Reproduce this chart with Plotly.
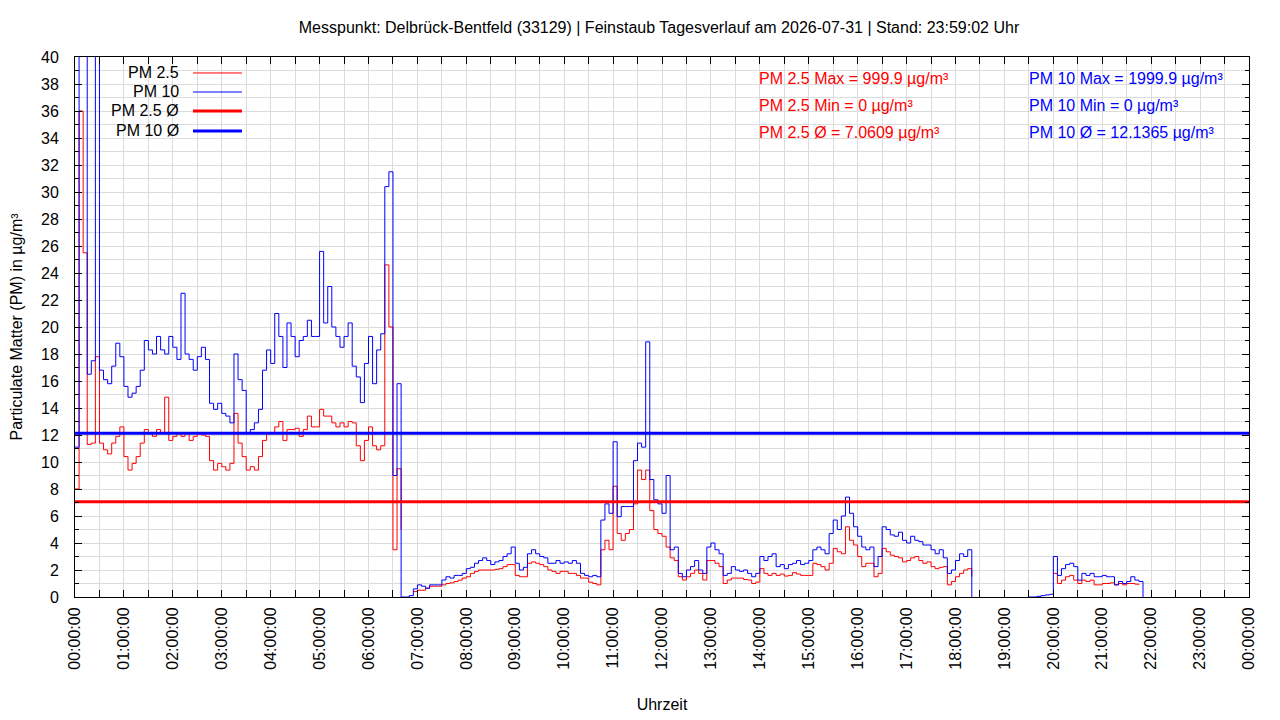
import pandas as pd
import plotly.graph_objects as go

# ---------------- data (5-minute readings) ----------------
N = None
TIME_START = "2026-07-31 00:00:00"
TIME_END = "2026-08-01 00:00:00"

pm10 = [
    11.1, 44.0, 42.0, 16.5, 17.5, 45.0, 16.8, 16.1, 15.8, 17.1, 18.8, 17.8,   # 00
    15.6, 14.8, 15.1, 15.6, 16.8, 19.0, 18.3, 18.0, 19.3, 18.3, 18.0, 19.3,   # 01
    18.5, 17.6, 22.5, 18.0, 17.6, 16.8, 17.8, 18.5, 17.6, 14.35, 13.9, 14.35, # 02
    13.6, 13.4, 12.9, 18.0, 16.1, 15.3, 12.1, 12.4, 12.9, 13.9, 16.8, 18.3,   # 03
    17.3, 21.0, 19.3, 17.0, 20.3, 19.3, 17.8, 19.0, 19.3, 20.5, 19.3, 19.3,   # 04
    25.6, 20.3, 23.0, 20.0, 19.3, 18.5, 19.3, 20.3, 17.1, 16.3, 14.4, 17.3,   # 05
    19.3, 15.8, 18.3, 19.5, 30.4, 31.5, 9.0, 15.8, 0.0, 0.0, 0.1, 0.6,        # 06
    0.9, 0.8, 0.65, 0.9, 0.9, 0.9, 1.26, 1.5, 1.4, 1.6, 1.6, 1.75,            # 07
    2.1, 2.2, 2.5, 2.7, 2.9, 2.7, 2.4, 2.6, 2.7, 3.0, 3.2, 3.7,               # 08
    2.5, 2.0, 2.2, 3.2, 3.5, 3.2, 3.0, 2.9, 2.5, 2.5, 2.7, 2.5,               # 09
    2.6, 2.5, 2.7, 2.5, 1.75, 1.6, 1.5, 1.6, 1.5, 5.7, 6.9, 6.2,              # 10
    11.5, 5.95, 6.7, 6.7, 6.7, 10.1, 11.4, 11.1, 18.9, 8.7, 7.2, 6.9,         # 11
    6.2, 9.0, 3.5, 3.7, 1.75, 1.5, 2.0, 2.25, 2.7, 2.0, 1.75, 3.7,            # 12
    4.0, 3.5, 3.2, 1.6, 1.75, 2.25, 2.0, 1.9, 2.0, 1.75, 1.5, 1.75,           # 13
    3.0, 2.7, 3.0, 3.2, 2.25, 2.4, 2.1, 2.4, 2.5, 2.7, 2.4, 2.5,              # 14
    2.7, 3.5, 3.7, 3.5, 3.2, 4.7, 5.7, 5.0, 6.0, 7.4, 6.2, 5.2,               # 15
    4.5, 3.7, 3.5, 3.7, 2.25, 3.0, 5.2, 5.0, 4.6, 4.5, 4.8, 4.2,              # 16
    4.0, 4.5, 4.2, 4.1, 3.85, 3.85, 3.5, 3.2, 3.5, 2.9, 1.75, 2.0,            # 17
    2.7, 3.2, 3.0, 3.5, 0.0, N, N, N, N, N, N, N,                             # 18
    N, N, N, N, N, N, 0.0, 0.0, 0.05, 0.1, 0.15, 0.2,                         # 19
    3.0, 1.6, 2.1, 2.4, 2.5, 2.25, 1.25, 1.75, 1.6, 1.75, 1.5, 1.5,           # 20
    1.6, 1.5, 1.5, 0.9, 1.15, 1.0, 1.15, 1.5, 1.25, 1.15, 0.0, N,             # 21
    N, N, N, N, N, N, N, N, N, N, N, N,                                       # 22
    N, N, N, N, N, N, N, N, N, N, N, N,                                       # 23
]

pm25 = [
    8.0, 36.0, 25.5, 11.3, 11.4, 17.8, 11.4, 10.9, 10.6, 11.4, 11.9, 12.6,    # 00
    10.4, 9.4, 9.9, 10.4, 11.4, 12.4, 12.1, 11.9, 12.4, 12.1, 14.8, 11.6,     # 01
    11.9, 12.1, 11.9, 12.1, 11.6, 11.9, 12.1, 12.0, 11.9, 10.1, 9.4, 9.9,     # 02
    9.65, 9.4, 9.9, 13.6, 11.4, 10.4, 9.4, 9.65, 9.4, 10.4, 11.6, 12.1,       # 03
    12.1, 12.6, 13.0, 11.6, 12.4, 12.4, 12.5, 11.9, 12.4, 13.4, 12.6, 12.6,   # 04
    13.9, 13.4, 13.4, 12.9, 12.6, 12.9, 12.6, 13.0, 12.9, 11.2, 10.1, 11.6,   # 05
    12.6, 11.2, 10.9, 11.2, 24.6, 20.0, 3.5, 9.5, 5.0, N, N, 0.4,             # 06
    0.5, 0.5, 0.65, 0.8, 0.8, 0.8, 0.9, 1.0, 1.05, 1.15, 1.25, 1.4,           # 07
    1.5, 1.75, 1.9, 2.0, 2.0, 2.0, 2.0, 2.05, 2.1, 2.25, 2.4, 2.4,            # 08
    1.6, 1.5, 1.5, 2.5, 2.6, 2.5, 2.4, 2.25, 2.0, 1.9, 1.75, 1.9,             # 09
    1.9, 1.75, 1.75, 1.6, 1.4, 1.4, 1.1, 1.0, 0.9, 3.5, 4.2, 3.5,             # 10
    8.2, 4.7, 4.2, 4.7, 5.0, 6.9, 9.4, 8.7, 9.4, 6.4, 5.0, 4.7,               # 11
    4.5, 3.7, 2.9, 2.7, 1.5, 1.26, 1.5, 1.75, 2.0, 1.75, 1.26, 2.7,           # 12
    2.7, 2.5, 2.25, 1.0, 1.26, 1.4, 1.4, 1.4, 1.3, 1.26, 1.0, 1.1,            # 13
    2.1, 1.75, 1.6, 1.75, 1.6, 1.7, 1.55, 1.6, 1.8, 1.7, 1.6, 1.6,            # 14
    1.6, 2.5, 2.4, 2.25, 2.0, 2.5, 3.6, 3.35, 3.2, 5.2, 4.2, 3.85,            # 15
    3.0, 2.25, 2.5, 2.5, 1.5, 1.75, 3.6, 3.35, 3.1, 3.0, 2.9, 2.6,            # 16
    2.7, 2.9, 3.0, 2.7, 2.5, 2.6, 2.25, 2.1, 2.2, 2.25, 0.9, 1.15,            # 17
    1.5, 1.75, 2.0, 2.1, 1.5, N, N, N, N, N, N, N,                            # 18
    N, N, N, N, N, N, N, N, N, N, N, N,                                       # 19
    1.75, 1.0, 1.25, 1.5, 1.6, 1.25, 1.0, 1.25, 1.15, 1.25, 0.9, 0.9,         # 20
    1.0, 1.0, 1.05, 0.9, 1.0, 0.9, 1.0, 1.0, 0.95, 0.9, N, N,                 # 21
    N, N, N, N, N, N, N, N, N, N, N, N,                                       # 22
    N, N, N, N, N, N, N, N, N, N, N, N,                                       # 23
]

PM25_AVG = 7.0609
PM10_AVG = 12.1365
stats_pm25 = ["PM 2.5 Max = 999.9 µg/m³", "PM 2.5 Min = 0 µg/m³", "PM 2.5 Ø = 7.0609 µg/m³"]
stats_pm10 = ["PM 10 Max = 1999.9 µg/m³", "PM 10 Min = 0 µg/m³", "PM 10 Ø = 12.1365 µg/m³"]
legend_names = ["PM 2.5", "PM 10", "PM 2.5 Ø", "PM 10 Ø"]

times = pd.date_range(TIME_START, periods=len(pm10), freq="5min")

RED = "#ff0000"
BLUE = "#0000ff"
FONT = "Liberation Sans, Arial, sans-serif"
GRID = "#dcdcdc"

fig = go.Figure()
fig.add_trace(go.Scatter(x=times, y=pm25, mode="lines", line=dict(color=RED, width=1, shape="hv"),
                         name=legend_names[0], showlegend=False))
fig.add_trace(go.Scatter(x=times, y=pm10, mode="lines", line=dict(color=BLUE, width=1, shape="hv"),
                         name=legend_names[1], showlegend=False))
fig.add_trace(go.Scatter(x=[TIME_START, TIME_END], y=[PM25_AVG, PM25_AVG], mode="lines",
                         line=dict(color=RED, width=3), name=legend_names[2], showlegend=False))
fig.add_trace(go.Scatter(x=[TIME_START, TIME_END], y=[PM10_AVG, PM10_AVG], mode="lines",
                         line=dict(color=BLUE, width=3), name=legend_names[3], showlegend=False))

# legend box (gnuplot style: text left, line sample right)
shapes = [dict(type="rect", xref="paper", yref="paper", x0=0, x1=0.149, y0=0.846, y1=1,
               fillcolor="white", line=dict(width=0), layer="between")]
annotations = []
leg_y = [0.9704, 0.9352, 0.9, 0.863]
leg_col = [RED, BLUE, RED, BLUE]
leg_w = [1, 1, 3, 3]
for name, yy, c, w in zip(legend_names, leg_y, leg_col, leg_w):
    annotations.append(dict(text=name, xref="paper", yref="paper", x=0.0903, y=yy,
                            xanchor="right", yanchor="middle", showarrow=False,
                            font=dict(family=FONT, size=16, color="black")))
    shapes.append(dict(type="line", xref="paper", yref="paper", x0=0.1005, x1=0.1422,
                       y0=yy, y1=yy, line=dict(color=c, width=w), layer="above"))

stat_y = [0.9611, 0.9111, 0.8611]
for txt, yy in zip(stats_pm25, stat_y):
    annotations.append(dict(text=txt, xref="paper", yref="paper", x=0.581, y=yy,
                            xanchor="left", yanchor="middle", showarrow=False,
                            font=dict(family=FONT, size=16, color=RED)))
for txt, yy in zip(stats_pm10, stat_y):
    annotations.append(dict(text=txt, xref="paper", yref="paper", x=0.811, y=yy,
                            xanchor="left", yanchor="middle", showarrow=False,
                            font=dict(family=FONT, size=16, color=BLUE)))

# page body has an 8px margin: figure is 1272x712 placed at (8,8)
fig.update_layout(
    width=1272, height=712,
    margin=dict(l=67, r=31, t=49, b=123, autoexpand=False),
    paper_bgcolor="white", plot_bgcolor="white",
    font=dict(family=FONT, size=16, color="black"),
    title=dict(text="Messpunkt: Delbrück-Bentfeld (33129) | Feinstaub Tagesverlauf am 2026-07-31 | Stand: 23:59:02 Uhr",
               xref="container", yref="container", x=0.5118, y=0.9733, xanchor="center", yanchor="middle",
               font=dict(family=FONT, size=16, color="black")),
    showlegend=False,
    shapes=shapes,
    annotations=annotations,
    xaxis=dict(type="date", range=[TIME_START, TIME_END], tick0=TIME_START, dtick=3600000,
               tickformat="%H:%M:%S", tickangle=-90, ticks="inside", ticklen=7, tickcolor="black",
               showgrid=True, gridcolor=GRID, gridwidth=1, automargin=False,
               minor=dict(dtick=1800000, ticks="inside", ticklen=7, tickcolor="black",
                          showgrid=True, gridcolor=GRID),
               showline=True, linecolor="black", linewidth=1, mirror="ticks", zeroline=False,
               ticklabelstandoff=3,
               tickfont=dict(family=FONT, size=16, color="black"),
               title=dict(text="Uhrzeit", standoff=30, font=dict(family=FONT, size=16, color="black"))),
    yaxis=dict(range=[0, 40], dtick=2, ticks="inside", ticklen=7, tickcolor="black",
               showgrid=True, gridcolor=GRID, gridwidth=1, automargin=False,
               minor=dict(dtick=1, ticks="inside", ticklen=4, tickcolor="black",
                          showgrid=True, gridcolor=GRID),
               showline=True, linecolor="black", linewidth=1, mirror="ticks", zeroline=False,
               ticklabelstandoff=12,
               tickfont=dict(family=FONT, size=16, color="black"),
               title=dict(text="Particulate Matter (PM) in µg/m³", standoff=18,
                          font=dict(family=FONT, size=16, color="black"))),
)

fig.write_html("out.html")
